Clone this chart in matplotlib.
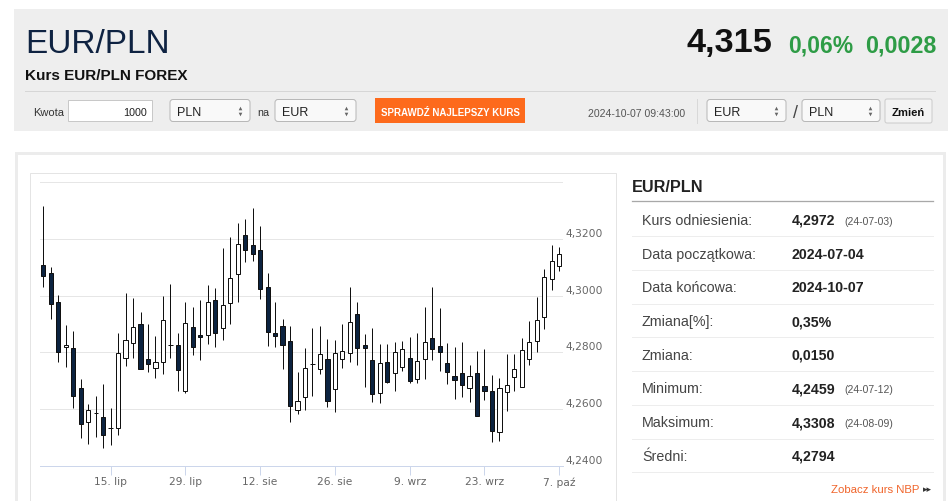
import matplotlib
matplotlib.use('Agg')
import matplotlib.pyplot as plt
from matplotlib import font_manager, transforms
from matplotlib.patches import Rectangle, FancyBboxPatch
import pandas as pd

W, H = 948, 502

# ---------------- data ----------------
dates = pd.bdate_range('2024-07-02', '2024-10-07')
opens = [4.3108, 4.3081, 4.2976, 4.2819, 4.2815, 4.2674, 4.2555, 4.2586, 4.2573, 4.2533,
         4.2533, 4.2781, 4.2832, 4.2900, 4.2775, 4.2744, 4.2767, 4.2826, 4.2826, 4.2664,
         4.2889, 4.2860, 4.2862, 4.2985, 4.2887, 4.2973, 4.3078, 4.3213, 4.3179, 4.3162,
         4.3032, 4.2869, 4.2893, 4.2841, 4.2595, 4.2644, 4.2759, 4.2741, 4.2775, 4.2671,
         4.2778, 4.2799, 4.2934, 4.2827, 4.2772, 4.2658, 4.2766, 4.2726, 4.2747, 4.2779,
         4.2707, 4.2778, 4.2849, 4.2824, 4.2764, 4.2718, 4.2726, 4.2675, 4.2726, 4.2681,
         4.2665, 4.2520, 4.2661, 4.2714, 4.2678, 4.2776, 4.2841, 4.2926, 4.3060, 4.3105]
highs = [4.3318, 4.3101, 4.3001, 4.2898, 4.2876, 4.2705, 4.2616, 4.2647, 4.2689, 4.2605,
         4.2867, 4.3008, 4.2993, 4.2941, 4.2901, 4.2858, 4.2999, 4.3040, 4.2867, 4.2979,
         4.2959, 4.2985, 4.3038, 4.3028, 4.3167, 4.3207, 4.3255, 4.3269, 4.3308, 4.3245,
         4.3079, 4.2979, 4.2918, 4.2892, 4.2729, 4.2814, 4.2887, 4.2894, 4.2847, 4.2842,
         4.2901, 4.3032, 4.2978, 4.2864, 4.2887, 4.2828, 4.2828, 4.2836, 4.2841, 4.2854,
         4.2867, 4.2960, 4.3031, 4.2955, 4.2832, 4.2820, 4.2838, 4.2755, 4.2806, 4.2811,
         4.2721, 4.2711, 4.2793, 4.2793, 4.2849, 4.2911, 4.2994, 4.3093, 4.3179, 4.3173]
lows = [4.3029, 4.2916, 4.2767, 4.2749, 4.2602, 4.2499, 4.2476, 4.2501, 4.2461, 4.2473,
        4.2508, 4.2753, 4.2780, 4.2740, 4.2729, 4.2708, 4.2722, 4.2779, 4.2664, 4.2655,
        4.2791, 4.2773, 4.2831, 4.2820, 4.2844, 4.2899, 4.2979, 4.3120, 4.3122, 4.2987,
        4.2822, 4.2818, 4.2741, 4.2555, 4.2584, 4.2596, 4.2647, 4.2724, 4.2606, 4.2591,
        4.2744, 4.2767, 4.2755, 4.2679, 4.2626, 4.2622, 4.2693, 4.2664, 4.2735, 4.2691,
        4.2693, 4.2707, 4.2774, 4.2734, 4.2687, 4.2635, 4.2644, 4.2626, 4.2575, 4.2632,
        4.2485, 4.2487, 4.2593, 4.2664, 4.2677, 4.2755, 4.2800, 4.2882, 4.3021, 4.3087]
closes = [4.3071, 4.2971, 4.2802, 4.2827, 4.2647, 4.2548, 4.2598, 4.2585, 4.2508, 4.2532,
          4.2799, 4.2842, 4.2891, 4.2741, 4.2758, 4.2765, 4.2913, 4.2825, 4.2738, 4.2904,
          4.2820, 4.2853, 4.2978, 4.2869, 4.2967, 4.3061, 4.3184, 4.3162, 4.3146, 4.3025,
          4.2873, 4.2856, 4.2826, 4.2611, 4.2629, 4.2744, 4.2760, 4.2795, 4.2629, 4.2796,
          4.2806, 4.2907, 4.2816, 4.2815, 4.2654, 4.2764, 4.2694, 4.2800, 4.2811, 4.2699,
          4.2769, 4.2836, 4.2813, 4.2800, 4.2729, 4.2701, 4.2685, 4.2718, 4.2576, 4.2665,
          4.2524, 4.2674, 4.2684, 4.2741, 4.2808, 4.2838, 4.2915, 4.3065, 4.3122, 4.3148]

tick_dates = ['2024-07-15', '2024-07-29', '2024-08-12', '2024-08-26',
              '2024-09-09', '2024-09-23', '2024-10-07']
tick_labels = ['15. lip', '29. lip', '12. sie', '26. sie', '9. wrz', '23. wrz', '7. paź']
y_ticks = [4.24, 4.26, 4.28, 4.30, 4.32]
y_tick_labels = ['4,2400', '4,2600', '4,2800', '4,3000', '4,3200']

row_labels = ['Kurs odniesienia:', 'Data początkowa:', 'Data końcowa:', 'Zmiana[%]:',
              'Zmiana:', 'Minimum:', 'Maksimum:', 'Średni:']
row_values = ['4,2972', '2024-07-04', '2024-10-07', '0,35%', '0,0150', '4,2459', '4,3308', '4,2794']
row_notes = ['(24-07-03)', '', '', '', '', '(24-07-12)', '(24-08-09)', '']

# ---------------- fonts ----------------
names = {f.name for f in font_manager.fontManager.ttflist}
NARROW = 'Liberation Sans Narrow' if 'Liberation Sans Narrow' in names else 'Liberation Sans'
ARIAL = 'Liberation Sans'

fig = plt.figure(figsize=(W / 100, H / 100), dpi=100, facecolor='white')
ov = fig.add_axes([0, 0, 1, 1], zorder=0)
ov.set_xlim(0, W)
ov.set_ylim(H, 0)
ov.axis('off')
renderer = fig.canvas.get_renderer()


def fit(x, y, s, w, ha='left', va='baseline', **kw):
    t = ov.text(x, y, s, ha=ha, va=va, fontsize=10, **kw)
    bb = t.get_window_extent(renderer=renderer)
    t.set_fontsize(10 * w / bb.width)
    return t


def px(v):
    return v * 0.72

# ---------------- top panel ----------------
ov.add_patch(Rectangle((14, 10), W - 14, 122, facecolor='#eeeeee', edgecolor='none'))
fit(25, 53, 'EUR/PLN', 145, color='#0f2342', family=NARROW)
fit(25, 80, 'Kurs EUR/PLN FOREX', 163, color='#111111', family=NARROW, weight='bold')
ov.plot([25, 935], [91.5, 91.5], color='#d6d6d6', lw=px(1))
fit(772, 52, '4,315', 86, ha='right', color='#111111', family=NARROW, weight='bold')
fit(788, 52, '0,06%', 65, color='#2e9c46', family=NARROW, weight='bold')
fit(937, 52, '0,0028', 71, ha='right', color='#2e9c46', family=NARROW, weight='bold')

# controls
fit(33, 116.5, 'Kwota', 31, color='#333333', family=NARROW)
ov.add_patch(Rectangle((68, 101), 84, 21, facecolor='white', edgecolor='#c8c8c8', lw=px(1)))
fit(147, 116.5, '1000', 24, ha='right', color='#222222', family=NARROW)


def select(x0, x1, label):
    ov.add_patch(FancyBboxPatch((x0, 100.5), x1 - x0, 22, boxstyle='round,pad=0,rounding_size=3',
                                facecolor='#f9f9f9', edgecolor='#b8b8b8', lw=px(1)))
    ov.text(x0 + 7, 116.5, label, fontsize=px(12.5), family=NARROW, color='#222222',
            ha='left', va='baseline')
    ov.plot([x1 - 10], [109], marker='^', ms=2.6, color='#666666', mec='none')
    ov.plot([x1 - 10], [114.5], marker='v', ms=2.6, color='#666666', mec='none')


select(170, 250, 'PLN')
fit(257, 116.5, 'na', 12, color='#333333', family=NARROW)
select(275, 356, 'EUR')
ov.add_patch(Rectangle((375, 99), 150, 25, facecolor='#fd6a1c', edgecolor='none'))
fit(450, 115.5, 'SPRAWDŹ NAJLEPSZY KURS', 138, ha='center', color='white', family=NARROW, weight='bold')
fit(637, 117, '2024-10-07 09:43:00', 98, ha='center', color='#555555', family=NARROW)
ov.plot([697, 697], [100, 124], color='#d8d8d8', lw=px(1))
select(707, 786, 'EUR')
fit(793, 118, '/', 5, color='#444444', family=NARROW)
select(802, 880, 'PLN')
ov.add_patch(FancyBboxPatch((885, 100), 47, 24, boxstyle='round,pad=0,rounding_size=2',
                            facecolor='#f3f3f3', edgecolor='#cccccc', lw=px(1)))
fit(908.5, 116.5, 'Zmień', 33, ha='center', color='#111111', family=NARROW, weight='bold')

# ---------------- lower panel frames ----------------
ov.add_patch(Rectangle((16.5, 153.5), 928, 360, facecolor='white', edgecolor='#ececec', lw=px(3)))
ov.add_patch(Rectangle((30.5, 173.5), 586, 340, facecolor='white', edgecolor='#e4e4e4', lw=px(1)))

# ---------------- right table ----------------
ov.text(632, 192, 'EUR/PLN', fontsize=px(16.2), weight='bold', family=ARIAL, color='#222222',
        ha='left', va='baseline')
ov.plot([632, 933], [202.3, 202.3], color='#a8a8a8', lw=px(1.3))
for k, (lab, val, note) in enumerate(zip(row_labels, row_values, row_notes)):
    base = 225 + 33.7 * k
    ov.text(642, base, lab, fontsize=px(14.3), family=ARIAL, color='#444444', ha='left', va='baseline')
    ov.text(792, base, val, fontsize=px(14.1), family=ARIAL, weight='bold', color='#222222',
            ha='left', va='baseline')
    if note:
        ov.text(844, base, note, fontsize=px(10.4), family=ARIAL, color='#555555',
                ha='left', va='baseline')
    ov.plot([632, 933], [237.3 + 33.7 * k, 237.3 + 33.7 * k], color='#ededed', lw=px(1))
ov.text(919, 493.3, 'Zobacz kurs NBP', fontsize=px(11.4), family=ARIAL, color='#f0642a',
        ha='right', va='baseline')
ov.text(923, 492, '▸▸', fontsize=px(9), family=['DejaVu Sans'], color='#333333',
        ha='left', va='baseline')

# ---------------- candlestick chart ----------------
left, right, top, bottom = 40, 563, 183.3, 466.7
ax = fig.add_axes([left / W, 1 - bottom / H, (right - left) / W, (bottom - top) / H], zorder=1)
ax.patch.set_alpha(0)
ax.set_ylim(4.24, 4.34)
ax.set_xlim(-0.44, 69.5)
for s in ['top', 'right', 'left']:
    ax.spines[s].set_visible(False)
ax.spines['bottom'].set_color('#ccd6eb')
ax.spines['bottom'].set_linewidth(px(1))
for g in [4.26, 4.28, 4.30, 4.32, 4.34]:
    ax.axhline(g, color='#e6e6e6', lw=px(1), zorder=0)
ax.set_yticks([])

xs = list(range(len(dates)))
up_color, down_color = 'white', '#0c2340'
for i, o, h, l, c in zip(xs, opens, highs, lows, closes):
    ax.vlines(i, l, h, color='#111111', lw=px(1), zorder=2)
    lo, hi = min(o, c), max(o, c)
    ax.bar(i, max(hi - lo, 0.00005), bottom=lo, width=0.56,
           facecolor=up_color if c >= o else down_color, edgecolor='#111111',
           lw=px(1), zorder=3)

date_index = {d.strftime('%Y-%m-%d'): i for i, d in enumerate(dates)}
ax.set_xticks([date_index[d] for d in tick_dates])
ax.set_xticklabels(tick_labels, fontsize=px(10.6), color='#666666', family='DejaVu Sans')
ax.tick_params(axis='x', length=px(8.5), width=px(1), color='#ccd6eb', pad=px(2))

lab_tr = transforms.offset_copy(ax.get_yaxis_transform(), fig=fig, x=2.5, y=6, units='dots')
for v, t in zip(y_ticks, y_tick_labels):
    ax.text(1.0, v, t, transform=lab_tr, fontsize=px(10.6), color='#666666',
            family='DejaVu Sans', ha='left', va='center', clip_on=False)

fig.savefig('out.png', dpi=100, facecolor='white')
